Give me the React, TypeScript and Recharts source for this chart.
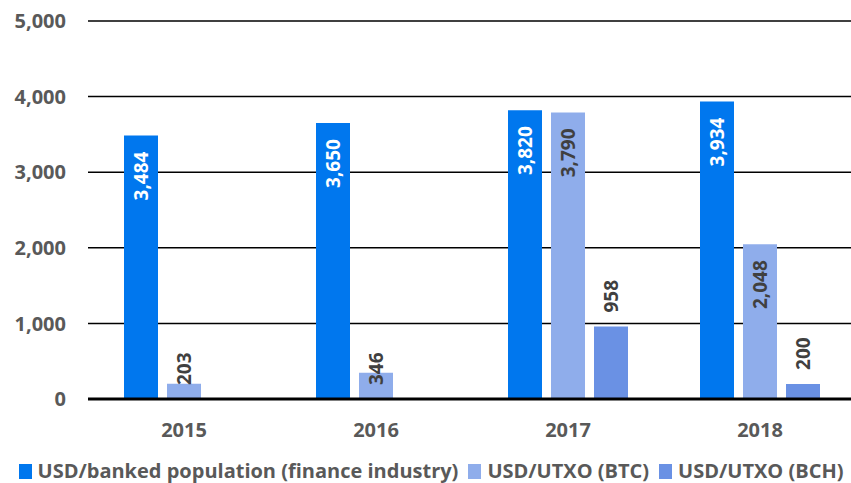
import React from 'react';
import { BarChart, Bar, XAxis, YAxis, CartesianGrid, Legend, LabelList } from 'recharts';

const years = ['2015', '2016', '2017', '2018'];
const bankedPopulation = [3484, 3650, 3820, 3934];
const utxoBtc = [203, 346, 3790, 2048];
const utxoBch = [null, null, 958, 200];
const yTicks = [0, 1000, 2000, 3000, 4000, 5000];

const seriesNames = [
  'USD/banked population (finance industry)',
  'USD/UTXO (BTC)',
  'USD/UTXO (BCH)',
];
const seriesColors = ['#0077ee', '#8fadeb', '#6a91e4'];

const data = years.map((year, i) => ({
  year,
  banked: bankedPopulation[i],
  btc: utxoBtc[i],
  bch: utxoBch[i],
}));

const fmt = (v: number) => v.toLocaleString('en-US');
const FONT = '"Open Sans", "DejaVu Sans", sans-serif';

// rotated value label; mode decides where it sits relative to the bar
const makeLabel = (mode: 'inside' | 'auto' | 'above', color: string) => (props: any) => {
  const { x, y, width, height, value } = props;
  if (value == null) return null;
  const cx = x + width / 2;
  let anchorY: number;
  let anchor: 'start' | 'end';
  if (mode === 'inside' || (mode === 'auto' && height > 70)) {
    anchorY = y + 16;
    anchor = 'end';
  } else if (mode === 'auto') {
    anchorY = y + height - 14;
    anchor = 'start';
  } else {
    anchorY = y - 14;
    anchor = 'start';
  }
  return (
    <text
      x={cx}
      y={anchorY}
      transform={`rotate(-90, ${cx}, ${anchorY})`}
      textAnchor={anchor}
      dominantBaseline="central"
      fill={color}
      fontFamily={FONT}
      fontWeight={700}
      fontSize={19}
    >
      {fmt(value)}
    </text>
  );
};

const LegendContent = () => (
  <div
    style={{
      display: 'flex',
      justifyContent: 'center',
      alignItems: 'center',
      paddingLeft: 16,
      paddingTop: 3,
      fontFamily: FONT,
      fontSize: 20,
      fontWeight: 700,
      color: '#595959',
      whiteSpace: 'nowrap',
      lineHeight: '26px',
    }}
  >
    {seriesNames.map((name, i) => (
      <div key={name} style={{ display: 'flex', alignItems: 'center', marginRight: 10 }}>
        <span
          style={{
            display: 'inline-block',
            width: 13,
            height: 15,
            background: seriesColors[i],
            marginRight: 6,
          }}
        />
        <span>{name}</span>
      </div>
    ))}
  </div>
);

export default function App() {
  return (
    <div style={{ position: 'absolute', left: 0, top: 0, width: 851, height: 483, background: '#fff' }}>
      <BarChart
        width={851}
        height={483}
        data={data}
        margin={{ top: 21, right: -5, left: 0, bottom: 0 }}
        barSize={34}
        barGap={9}
      >
        <CartesianGrid vertical={false} stroke="#000" strokeWidth={1.5} />
        <XAxis
          dataKey="year"
          axisLine={{ stroke: '#000', strokeWidth: 3 }}
          tickLine={false}
          height={56}
          tickMargin={18}
          tick={{ fill: '#595959', fontSize: 20, fontWeight: 700, fontFamily: FONT }}
        />
        <YAxis
          domain={[0, 5000]}
          ticks={yTicks}
          tickFormatter={fmt}
          axisLine={false}
          tickLine={false}
          width={88}
          tickMargin={16}
          tick={{ fill: '#595959', fontSize: 20, fontWeight: 700, fontFamily: FONT }}
        />
        <Legend verticalAlign="bottom" height={28} content={<LegendContent />} />
        <Bar dataKey="banked" name={seriesNames[0]} fill={seriesColors[0]} isAnimationActive={false}>
          <LabelList dataKey="banked" content={makeLabel('inside', '#ffffff')} />
        </Bar>
        <Bar dataKey="btc" name={seriesNames[1]} fill={seriesColors[1]} isAnimationActive={false}>
          <LabelList dataKey="btc" content={makeLabel('auto', '#404040')} />
        </Bar>
        <Bar dataKey="bch" name={seriesNames[2]} fill={seriesColors[2]} isAnimationActive={false}>
          <LabelList dataKey="bch" content={makeLabel('above', '#404040')} />
        </Bar>
      </BarChart>
    </div>
  );
}
